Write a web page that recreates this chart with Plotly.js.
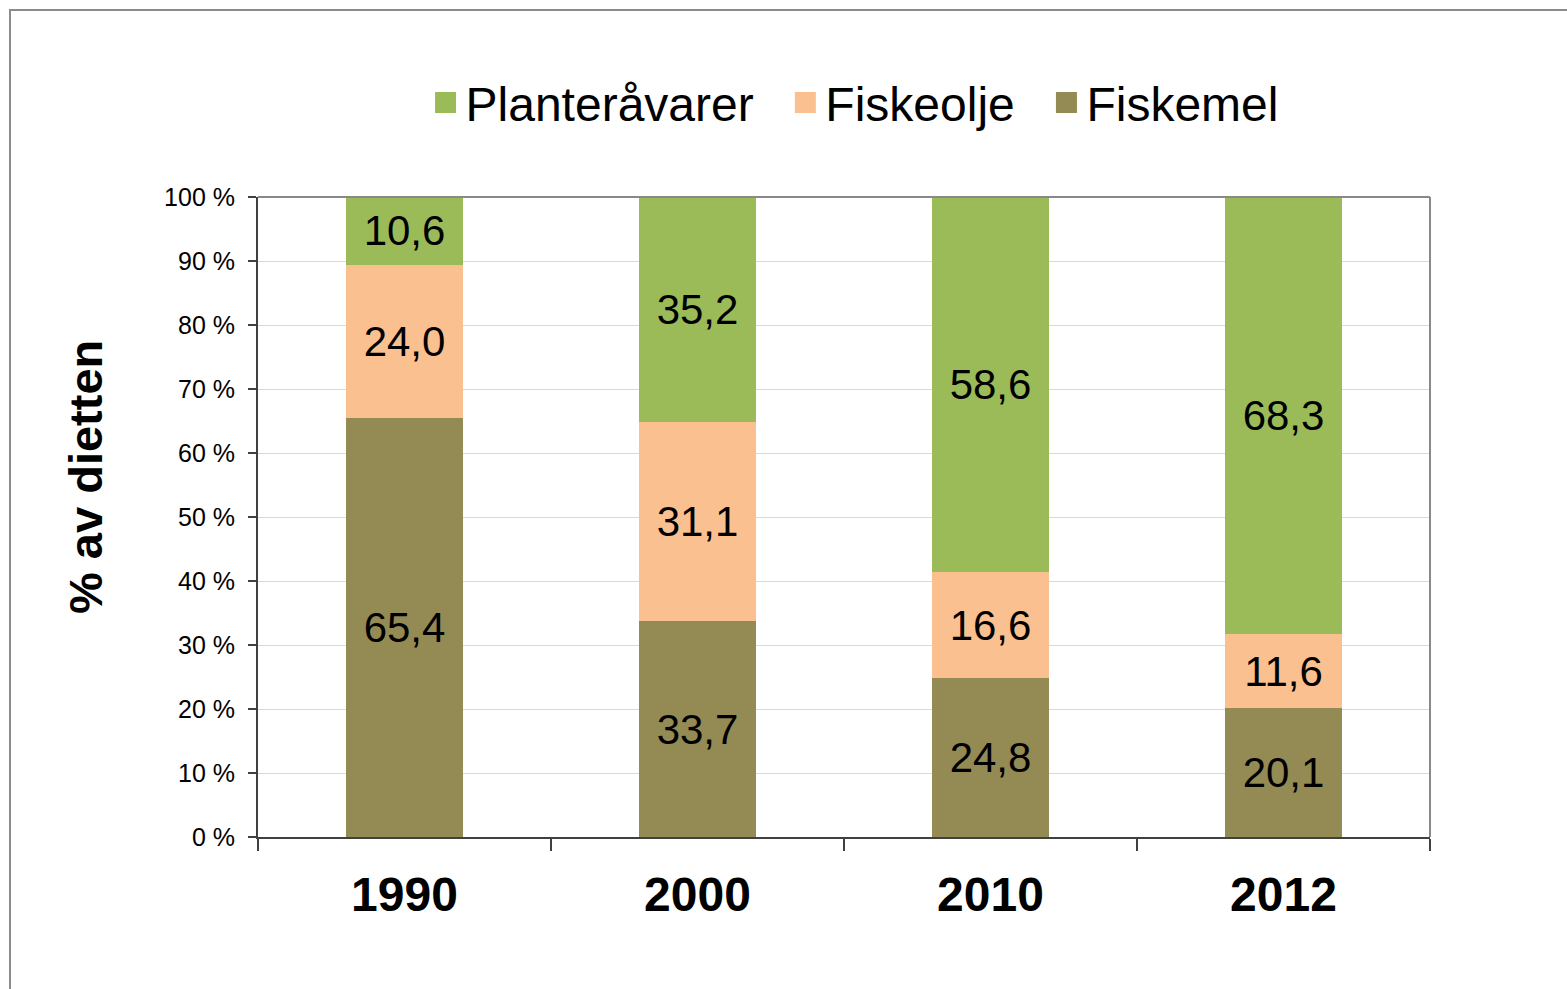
<!DOCTYPE html>
<html>
<head>
<meta charset="utf-8">
<script src="https://cdn.plot.ly/plotly-3.0.1.min.js"></script>
<style>
  html, body { margin: 0; padding: 0; background: #fff; }
  #chart { width: 1567px; height: 989px; }
</style>
</head>
<body>
<div id="chart"></div>
<script>
// -------- DATA --------
const years = ['1990', '2000', '2010', '2012'];
const fiskemel = [65.4, 33.7, 24.8, 20.1];
const fiskeolje = [24.0, 31.1, 16.6, 11.6];
const planteravarer = [10.6, 35.2, 58.6, 68.3];
const yTicks = [0, 10, 20, 30, 40, 50, 60, 70, 80, 90, 100];

// Norwegian decimal comma
const fmt = v => v.toFixed(1).replace('.', ',');

const FONT = 'Liberation Sans, Arial, sans-serif';
const NB = '\u00a0';

function barTrace(name, values, color) {
  return {
    type: 'bar',
    name: name,
    x: years,
    y: values,
    text: values.map(fmt),
    textposition: 'inside',
    insidetextanchor: 'middle',
    constraintext: 'none',
    textfont: { family: FONT, size: 42, color: '#000' },
    marker: { color: color, line: { width: 0 } },
    showlegend: false,
    hoverinfo: 'x+y+name'
  };
}

// legend-only entries, so the swatches can be a bit bigger than bar swatches
function legendTrace(label, color) {
  return {
    type: 'scatter',
    mode: 'markers',
    name: label,
    x: [years[0]],
    y: [null],
    marker: { symbol: 'square', size: 16, color: color, line: { color: color, width: 5 } },
    showlegend: true,
    hoverinfo: 'skip'
  };
}

// stack order bottom -> top
const traces = [
  barTrace('Fiskemel', fiskemel, '#948A54'),
  barTrace('Fiskeolje', fiskeolje, '#FAC090'),
  barTrace('Planteråvarer', planteravarer, '#9BBB59'),
  // legend order: Planteråvarer, Fiskeolje, Fiskemel
  legendTrace('Planteråvarer' + NB + NB, '#9BBB59'),
  legendTrace('Fiskeolje' + NB + NB, '#FAC090'),
  legendTrace('Fiskemel', '#948A54')
];

// -------- LAYOUT --------
const layout = {
  width: 1567,
  height: 989,
  barmode: 'stack',
  bargap: 0.6,
  margin: { l: 258, r: 137, t: 197, b: 152 },
  paper_bgcolor: '#fff',
  plot_bgcolor: '#fff',
  font: { family: FONT, color: '#000' },
  showlegend: true,
  legend: {
    orientation: 'h',
    traceorder: 'normal',
    x: 0.509, xanchor: 'center',
    y: 1.147, yanchor: 'middle',
    font: { family: FONT, size: 48, color: '#000' },
    itemwidth: 30
  },
  xaxis: {
    type: 'category',
    tickson: 'boundaries',
    ticks: 'outside',
    ticklen: 12,
    tickwidth: 1.5,
    tickcolor: '#404040',
    showline: true,
    linecolor: '#404040',
    linewidth: 2,
    showgrid: false,
    ticklabelstandoff: 14,
    tickfont: { family: FONT, size: 48, color: '#000', weight: 'bold' }
  },
  yaxis: {
    range: [0, 100],
    tickmode: 'array',
    tickvals: yTicks,
    ticktext: yTicks.map(v => v + ' %'),
    ticks: 'outside',
    ticklen: 8,
    tickwidth: 1.5,
    tickcolor: '#404040',
    showline: true,
    linecolor: '#404040',
    linewidth: 2,
    showgrid: true,
    gridcolor: '#d9d9d9',
    gridwidth: 1,
    zeroline: false,
    ticklabelstandoff: 8,
    tickfont: { family: FONT, size: 25, color: '#000' }
  },
  annotations: [
    // y axis title, sits a bit above the plot's vertical centre
    { text: '<b>% av dietten</b>', textangle: -90, showarrow: false,
      xref: 'paper', yref: 'paper', x: -0.1476, y: 0.5625,
      xanchor: 'center', yanchor: 'middle',
      font: { family: FONT, size: 47, color: '#000' } }
  ],
  shapes: [
    // outer chart frame (runs off the right and bottom edge)
    { type: 'rect', xref: 'paper', yref: 'paper', x0: -0.2116, x1: 1.3, y0: -0.4, y1: 1.2922,
      line: { color: '#8c8c8c', width: 2 }, layer: 'below' },
    // plot area border, top and right
    { type: 'line', xref: 'paper', yref: 'paper', x0: 0, x1: 1, y0: 1, y1: 1,
      line: { color: '#898989', width: 2 } },
    { type: 'line', xref: 'paper', yref: 'paper', x0: 1, x1: 1, y0: 0, y1: 1,
      line: { color: '#898989', width: 2 } }
  ]
};

Plotly.newPlot('chart', traces, layout, { displayModeBar: false, staticPlot: true });
</script>
</body>
</html>
